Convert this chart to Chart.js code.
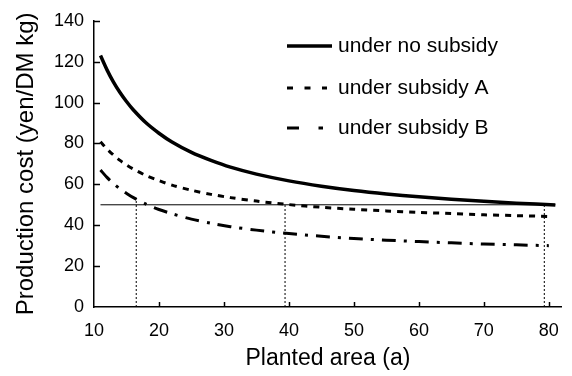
<!DOCTYPE html>
<html>
<head>
<meta charset="utf-8">
<script src="https://cdn.jsdelivr.net/npm/chart.js@4/dist/chart.umd.min.js"></script>
<style>
  html,body{margin:0;padding:0;background:#fff}
</style>
</head>
<body>
<canvas id="chart" width="572" height="376"></canvas>
<script>
// Production cost vs planted area

const areaNo  = [11,12,13,14,15,16,18,20,22,25,28,31,35,40,45,50,55,60,65,70,75,81];
const areaAB  = [11,12,13,14,15,16,18,20,22,25,28,31,35,40,45,50,55,60,65,70,75,80];

const costNoSubsidy = [123.0,116.0,110.0,104.9,100.5,96.6,90.1,85.0,80.7,75.6,71.7,68.4,65.0,61.7,59.1,57.0,55.3,53.9,52.7,51.7,50.8,49.9];
const costSubsidyA  = [80.8,77.3,74.3,71.7,69.5,67.6,64.3,61.8,59.6,57.1,55.1,53.5,51.8,50.1,48.8,47.8,47.0,46.3,45.7,45.1,44.7,44.3];
const costSubsidyB  = [67.0,63.4,60.4,57.8,55.6,53.6,50.3,47.7,45.6,43.0,41.0,39.3,37.6,35.9,34.6,33.5,32.7,32.0,31.4,30.8,30.4,30.0];

const seriesLabels = ['under no subsidy','under subsidy A','under subsidy B'];

// reference lines
const targetCost = 50;
const targetFrom = 11, targetTo = 81;
const dropX   = [16.5, 39.4, 79.3];
const dropTop = [52.7, 50, 50];

const xTicks = [10,20,30,40,50,60,70,80];
const yTicks = [0,20,40,60,80,100,120,140];

const FONT = '"Liberation Sans", Arial, sans-serif';

function pts(xs, ys){ return xs.map((x,i) => ({x, y: ys[i]})); }

const refSets = [{
  data: [{x:targetFrom,y:targetCost},{x:targetTo,y:targetCost}],
  borderColor:'#000', borderWidth:1, pointRadius:0, tension:0
}].concat(dropX.map((x,i) => ({
  data: [{x,y:0},{x,y:dropTop[i]}],
  borderColor:'#000', borderWidth:1, borderDash:[2,2], pointRadius:0, tension:0
})));

// inner tick marks drawn on the scales
const innerTicks = {
  id:'innerTicks',
  afterDraw(chart){
    const {ctx, scales:{x,y}} = chart;
    ctx.save();
    ctx.strokeStyle = '#000';
    ctx.lineWidth = 1.5;
    xTicks.slice(1).forEach(v => {
      const px = Math.round(x.getPixelForValue(v)) + 0.5;
      ctx.beginPath(); ctx.moveTo(px, y.bottom); ctx.lineTo(px, y.bottom - 5); ctx.stroke();
    });
    yTicks.slice(1).forEach(v => {
      const py = Math.round(y.getPixelForValue(v)) + 0.5;
      ctx.beginPath(); ctx.moveTo(x.left, py); ctx.lineTo(x.left + 6, py); ctx.stroke();
    });
    ctx.restore();
  }
};

// legend drawn inside the plot
const lineLegend = {
  id:'lineLegend',
  afterDraw(chart){
    const ctx = chart.ctx;
    const rowsY = [46, 88, 128];
    const dashes = [[], [6,11.5], [12,19.5,5,100]];
    const lens = [45, 40, 36];
    ctx.save();
    chart.data.datasets.slice(0,3).forEach((ds,i) => {
      ctx.strokeStyle = '#000';
      ctx.lineWidth = ds.borderWidth;
      ctx.lineCap = 'butt';
      ctx.setLineDash(dashes[i]);
      ctx.beginPath(); ctx.moveTo(287, rowsY[i]); ctx.lineTo(287 + lens[i], rowsY[i]); ctx.stroke();
      ctx.setLineDash([]);
      ctx.fillStyle = '#000';
      ctx.font = '21px ' + FONT;
      ctx.textBaseline = 'middle';
      ctx.fillText(ds.label, 338, rowsY[i]);
    });
    ctx.restore();
  }
};

new Chart(document.getElementById('chart'), {
  type:'line',
  data:{
    datasets:[
      { label:seriesLabels[0], data:pts(areaNo, costNoSubsidy), borderColor:'#000', borderWidth:3.5, pointRadius:0, tension:0.3 },
      { label:seriesLabels[1], data:pts(areaAB, costSubsidyA), borderColor:'#000', borderWidth:3, borderDash:[6,6], pointRadius:0, tension:0.3 },
      { label:seriesLabels[2], data:pts(areaAB, costSubsidyB), borderColor:'#000', borderWidth:3, borderDash:[14,8,3,8], pointRadius:0, tension:0.3 }
    ].concat(refSets)
  },
  options:{
    responsive:false,
    animation:false,
    layout:{ padding:{ top:18, right:5, left:0, bottom:0 } },
    plugins:{ legend:{display:false}, tooltip:{enabled:false} },
    scales:{
      x:{
        type:'linear', min:10, max:82,
        afterBuildTicks: s => { s.ticks = xTicks.map(v => ({value:v})); },
        afterFit: s => { s.height = 69; },
        grid:{ display:true, drawOnChartArea:false, drawTicks:false },
        border:{ color:'#000', width:1.5 },
        ticks:{ color:'#000', font:{family:FONT, size:18}, padding:13, maxRotation:0 },
        title:{ display:true, text:'Planted area (a)', color:'#000', font:{family:FONT, size:23}, padding:{top:9} }
      },
      y:{
        min:0, max:140,
        afterBuildTicks: s => { s.ticks = yTicks.map(v => ({value:v})); },
        afterFit: s => { s.width = 94; },
        grid:{ display:true, drawOnChartArea:false, drawTicks:false },
        border:{ color:'#000', width:1.5 },
        ticks:{ color:'#000', font:{family:FONT, size:18}, padding:10 },
        title:{ display:true, text:'Production cost (yen/DM kg)', color:'#000', font:{family:FONT, size:24}, padding:{top:12, bottom:4} }
      }
    }
  },
  plugins:[innerTicks, lineLegend]
});
</script>
</body>
</html>
